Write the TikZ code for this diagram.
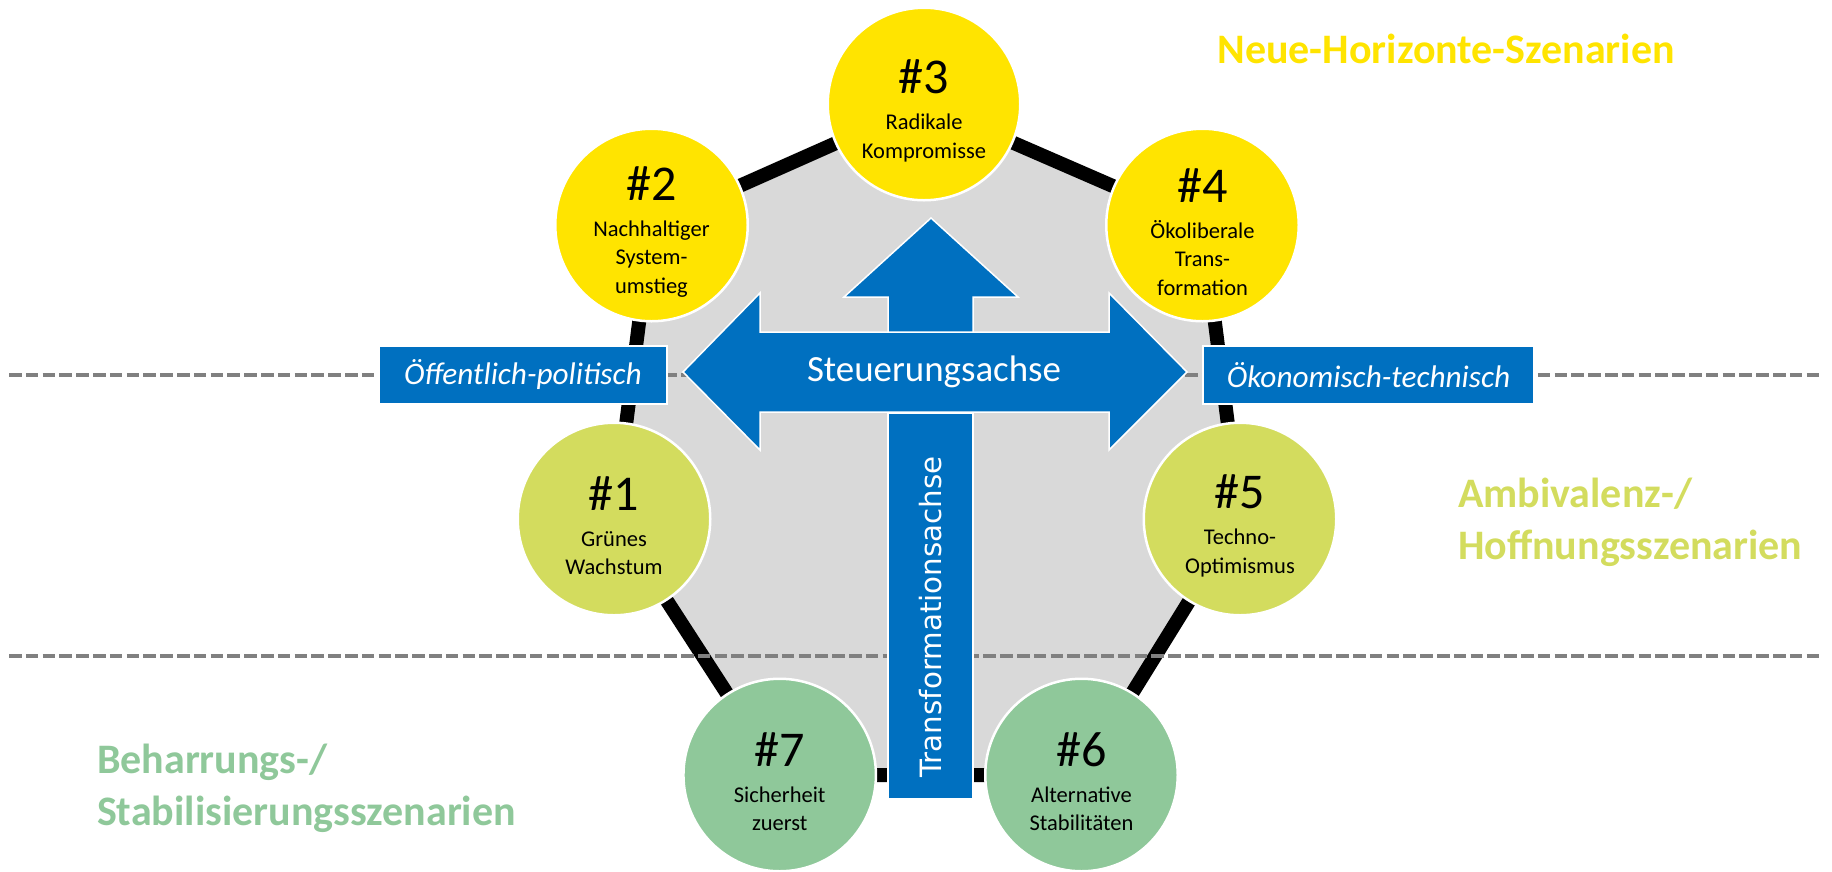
\documentclass[tikz,border=0pt]{standalone}
\usepackage{fontspec}
\setmainfont{Carlito}
\newfontfamily\axisfont{DejaVu Sans}
\usetikzlibrary{backgrounds}

\definecolor{szyellow}{RGB}{255,228,0}
\definecolor{szlime}{RGB}{211,220,94}
\definecolor{szgreen}{RGB}{143,200,154}
\definecolor{szblue}{RGB}{0,112,192}
\definecolor{szgray}{RGB}{217,217,217}
\definecolor{szdash}{RGB}{128,128,128}

% number line of a scenario circle
\newcommand{\scnum}[1]{{\fontsize{28.5}{30}\selectfont\rule{0pt}{27pt}\##1}\\[4.3pt]}

\begin{document}
\begin{tikzpicture}[
    x=0.2mm, y=-0.2mm,
    scen/.style={
        circle,
        draw=white,
        line width=0.5mm,
        minimum size=38.5mm,
        inner sep=0pt,
        align=center,
        font=\fontsize{12.8}{16.2}\selectfont
    },
    edge/.style={
        draw=black,
        line width=2.8mm,
        fill=szgray
    },
    sepline/.style={
        draw=szdash,
        line width=0.8mm,
        dash pattern=on 2.5mm off 0.86mm
    },
    axisshape/.style={
        fill=szblue,
        draw=white,
        line width=0.3mm
    },
    sidebox/.style={
        axisshape,
        rectangle,
        minimum height=11.6mm,
        inner sep=0pt,
        text=white,
        font=\fontsize{17.8}{20}\selectfont\itshape
    },
    grouptitle/.style={
        anchor=base west,
        align=left,
        inner sep=0pt,
        font=\fontsize{23.9}{29.4}\selectfont\bfseries
    }
]
\useasboundingbox (0,0) rectangle (1832,871);

% Scenario circles
\node[scen, fill=szlime] (sc1) at (614,519) {\scnum{1}Grünes\\Wachstum};
\node[scen, fill=szyellow] (sc2) at (651.5,225) {\scnum{2}Nachhaltiger\\System-\\umstieg};
\node[scen, fill=szyellow] (sc3) at (924,104) {\scnum{3}Radikale\\Kompromisse};
\node[scen, fill=szyellow] (sc4) at (1202.5,225) {\scnum{4}Ökoliberale\\Trans-\\formation};
\node[scen, fill=szlime] (sc5) at (1240,519) {\scnum{5}Techno-\\Optimismus};
\node[scen, fill=szgreen] (sc6) at (1081.5,775) {\scnum{6}Alternative\\Stabilitäten};
\node[scen, fill=szgreen] (sc7) at (779.7,775) {\scnum{7}Sicherheit\\zuerst};

% Ring behind the circles
\begin{scope}[on background layer]
\path[edge] (sc1.center) -- (sc2.center) -- (sc3.center) -- (sc4.center)
    -- (sc5.center) -- (sc6.center) -- (sc7.center) -- cycle;
\end{scope}

% Separator lines
\draw[sepline] (9,375) -- (1823,375);
\draw[sepline] (9,656) -- (1823,656);

% Transformation arrow (up)
\path[axisshape] (931,218) -- (1018,297) -- (973,297) -- (973,333)
    -- (888,333) -- (888,297) -- (844,297) -- cycle;

% Steuerungsachse (double arrow)
\path[axisshape] (683,372) -- (760,293) -- (760,332) -- (1109,332)
    -- (1109,293) -- (1187,372) -- (1109,450) -- (1109,412)
    -- (760,412) -- (760,450) -- cycle;
\node[text=white, font=\fontsize{21}{25}\selectfont] (steuerung) at (934,372) {Steuerungsachse};

% Transformationsachse
\node[axisshape, rectangle, minimum width=17mm, minimum height=77.2mm, inner sep=0pt] (transbox) at (930.5,606) {};
\node[rotate=90, text=white, inner sep=0pt, font=\axisfont\fontsize{16.7}{20}\selectfont] (transformation) at (931,617) {Transformationsachse};

% Axis ends
\node[sidebox, minimum width=57.6mm] (oeffentlich) at (523,375) {Öffentlich-politisch};
\node[sidebox, minimum width=66.2mm] (oekonomisch) at (1368.5,375) {Ökonomisch-technisch};

% Scenario groups (base = last line)
\node[grouptitle, text=szyellow] (neuehorizonte) at (1217,63) {Neue-Horizonte-Szenarien};
\node[grouptitle, text=szlime] (ambivalenz) at (1457.7,559.3) {Ambivalenz-/\\Hoffnungsszenarien};
\node[grouptitle, text=szgreen] (beharrung) at (96.7,825) {Beharrungs-/\\Stabilisierungsszenarien};

\end{tikzpicture}
\end{document}
